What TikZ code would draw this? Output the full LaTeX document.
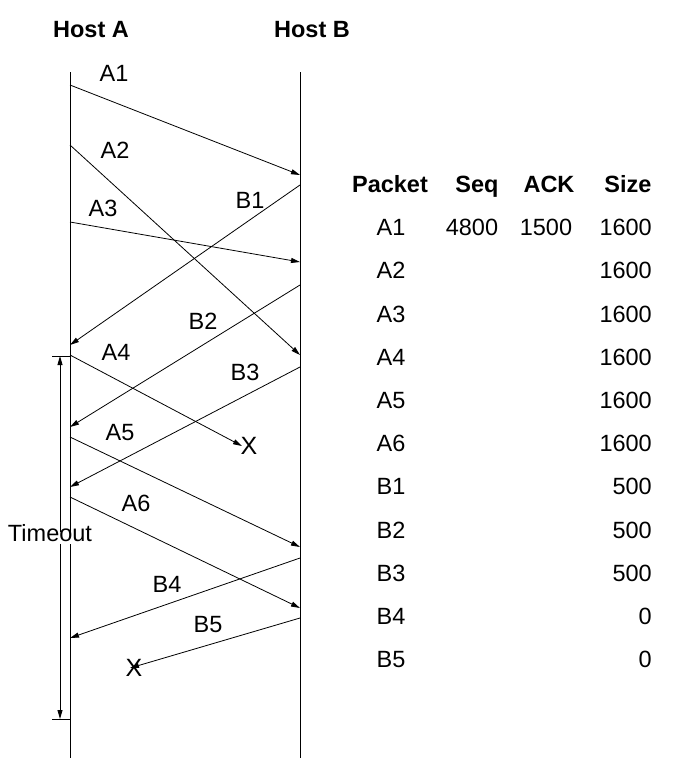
\documentclass[tikz,border=0pt]{standalone}
\usepackage{fontspec}
\setmainfont{Liberation Sans}
\usetikzlibrary{arrows.meta}
\begin{document}
\begin{tikzpicture}[x=1pt,y=-1pt,
  msg/.style={draw,line width=0.8pt,-{Triangle[length=9pt,width=5pt]}},
  lbl/.style={font=\fontsize{23.5}{25}\selectfont,inner sep=0pt,text height=0.72em,text depth=0pt},
  hdr/.style={lbl,font=\fontsize{23.5}{25}\selectfont\bfseries},
  cross/.style={font=\fontsize{25}{25}\selectfont,inner sep=0pt}]
\useasboundingbox (0,0) rectangle (676,782);
% host lines
\node[hdr] (ha) at (91,34) {Host A};
\node[hdr] (hb) at (312,34) {Host B};
\coordinate (at) at (70,72); \coordinate (ab) at (70,758);
\coordinate (bt) at (300,72); \coordinate (bb) at (300,758);
\draw[line width=0.8pt] (at) -- (ab);
\draw[line width=0.8pt] (bt) -- (bb);
% messages
\coordinate (a1s) at (70,85);  \coordinate (a1e) at (300,175);
\coordinate (a2s) at (70,145); \coordinate (a2e) at (300,355);
\coordinate (a3s) at (70,222); \coordinate (a3e) at (300,262);
\coordinate (b1s) at (300,185); \coordinate (b1e) at (70,345);
\coordinate (b2s) at (300,285); \coordinate (b2e) at (70,427);
\coordinate (a4s) at (70,355); \coordinate (a4e) at (242,446);
\coordinate (b3s) at (300,367); \coordinate (b3e) at (70,487);
\coordinate (a5s) at (70,437); \coordinate (a5e) at (300,547);
\coordinate (a6s) at (70,497); \coordinate (a6e) at (300,608);
\coordinate (b4s) at (300,558); \coordinate (b4e) at (70,638);
\coordinate (b5s) at (300,618); \coordinate (b5e) at (130,668);
\foreach \m in {a1,a2,a3,b1,b2,a4,b3,a5,a6,b4,b5}{\draw[msg] (\m s) -- (\m e);}
\node[cross] (x1) at (249,446) {X};
\node[cross] (x2) at (134,668) {X};
% labels
\node[lbl] (la1) at (114,78) {A1};
\node[lbl] (la2) at (115,155) {A2};
\node[lbl] (la3) at (103,213) {A3};
\node[lbl] (lb1) at (250,205) {B1};
\node[lbl] (lb2) at (203,326) {B2};
\node[lbl] (la4) at (116,357) {A4};
\node[lbl] (lb3) at (245,377) {B3};
\node[lbl] (la5) at (120,437) {A5};
\node[lbl] (la6) at (136,508) {A6};
\node[lbl] (lb4) at (167,589) {B4};
\node[lbl] (lb5) at (208,629) {B5};
% timeout
\coordinate (tt) at (60,356); \coordinate (tb) at (60,719);
\draw[line width=0.8pt] (52,356) -- (70,356);
\draw[line width=0.8pt] (52,719) -- (70,719);
\node[lbl,fill=white,inner sep=2pt] (to) at (50,538) {Timeout};
\draw[msg] (to.north -| tt) -- (tt);
\draw[msg] (to.south -| tb) -- (tb);
% table
\node[hdr] (hp) at (390,189) {Packet};
\node[hdr] (hs) at (477,189) {Seq};
\node[hdr] (hk) at (549,189) {ACK};
\node[hdr] (hz) at (628,189) {Size};
\foreach \n/\s [count=\i from 0] in {A1/1600,A2/1600,A3/1600,A4/1600,A5/1600,A6/1600,B1/500,B2/500,B3/500,B4/0,B5/0}{
  \node[lbl] (p\i) at (391,232+43.2*\i) {\n};
  \node[lbl,anchor=east] (z\i) at (652,232+43.2*\i) {\s};
}
\node[lbl] (s0) at (472,232) {4800};
\node[lbl] (k0) at (546,232) {1500};
\end{tikzpicture}
\end{document}
